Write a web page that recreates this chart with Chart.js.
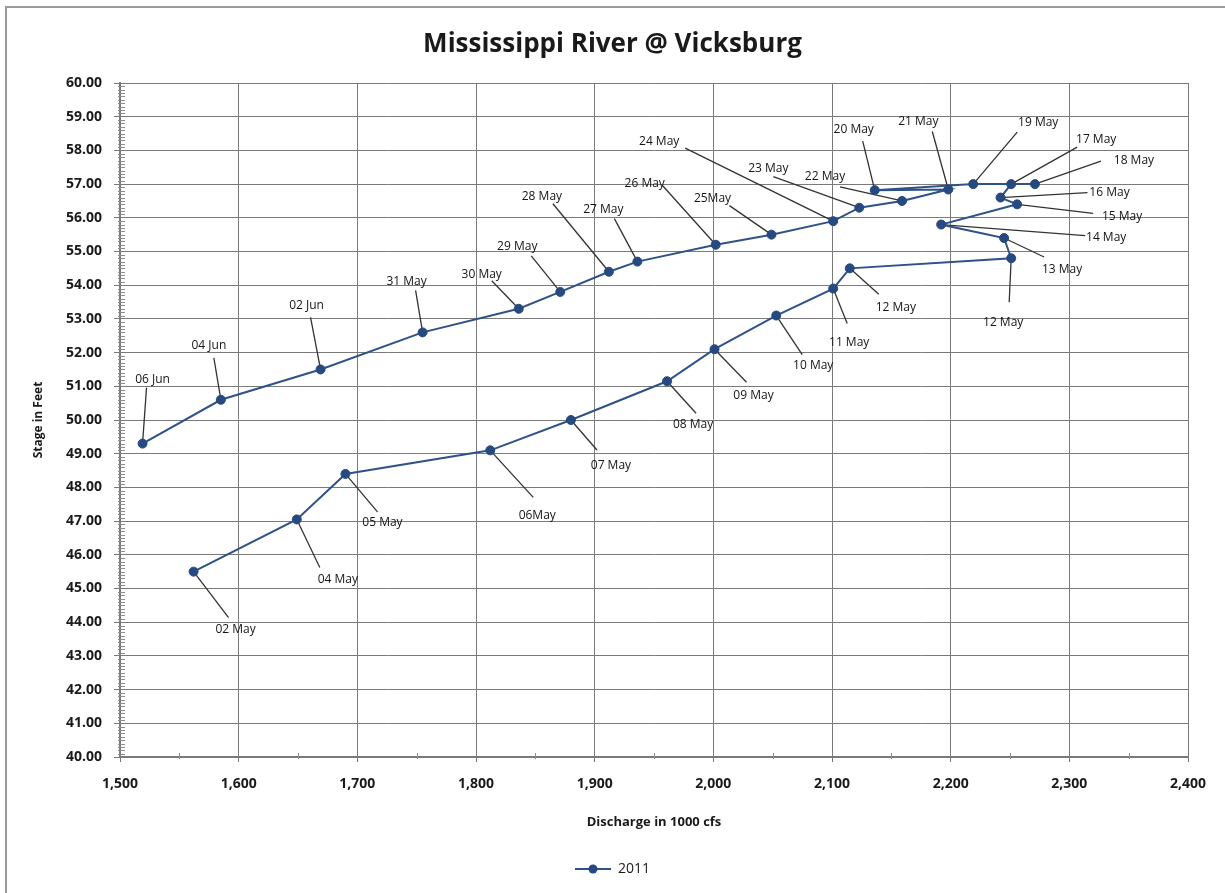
<!DOCTYPE html>
<html>
<head>
<meta charset="utf-8">
<script src="https://cdn.jsdelivr.net/npm/chart.js@4.4.0/dist/chart.umd.min.js"></script>
<style>
  html, body { margin: 0; padding: 0; background: #ffffff; }
  #wrap { width: 1225px; height: 893px; position: relative; }
</style>
</head>
<body>
<div id="wrap"><canvas id="c" width="1225" height="893"></canvas></div>
<script>
// ---------------- data ----------------
const seriesName = '2011';
const dateLabels = ['02 May','04 May','05 May','06May','07 May','08 May','09 May','10 May','11 May','12 May','12 May',
  '13 May','14 May','15 May','16 May','17 May','18 May','19 May','20 May','21 May','22 May','23 May','24 May',
  '25May','26 May','27 May','28 May','29 May','30 May','31 May','02 Jun','04 Jun','06 Jun'];
const discharge = [1562,1649,1690,1812,1880,1961,2001,2053,2101,2115,2251,
  2245,2192,2256,2242,2251,2271,2219,2136,2198,2159,2123,2101,
  2049,2002,1936,1912,1871,1836,1755,1669,1585,1519];
const stage = [45.5,47.05,48.4,49.1,50.0,51.15,52.1,53.1,53.9,54.5,54.8,
  55.4,55.8,56.4,56.6,57.0,57.0,57.0,56.82,56.84,56.5,56.3,55.9,
  55.5,55.2,54.7,54.4,53.8,53.3,52.6,51.5,50.6,49.3];
const xTickValues = [1500,1600,1700,1800,1900,2000,2100,2200,2300,2400];
const xTickLabels = ['1,500','1,600','1,700','1,800','1,900','2,000','2,100','2,200','2,300','2,400'];
const yTickValues = [40,41,42,43,44,45,46,47,48,49,50,51,52,53,54,55,56,57,58,59,60];
const yTickLabels = ['40.00','41.00','42.00','43.00','44.00','45.00','46.00','47.00','48.00','49.00','50.00',
  '51.00','52.00','53.00','54.00','55.00','56.00','57.00','58.00','59.00','60.00'];

// -------- label placement (pixel offsets from each point: text centre x,y ; leader end x,y) --------
const labelPlacement = [
  [42,58,35,46],[41,60,23,48],[37,49,32,38],[47,65,43,47],[40,46,26,30],[26,43,29,32],[39,46,32,33],
  [37,50,26,39],[16,54,14,35],[46,39,29,26],[-8,64,-2,44],
  [58,32,40,19],[165,13,144,11],[105,12,76,9],[109,-5,87,-5],[85,-45,66,-37],[99,-24,66,-23],[65,-62,44,-52],
  [-21,-61,-12,-49],[-30,-68,-16,-58],[-77,-24,-62,-14],[-91,-39,-86,-31],[-174,-80,-148,-73],
  [-59,-36,-42,-29],[-71,-61,-53,-59],[-34,-52,-23,-43],[-67,-75,-56,-68],[-43,-45,-29,-36],
  [-37,-34,-27,-28],[-16,-51,-7,-42],[-14,-64,-10,-52],[-12,-54,-7,-42],[10,-64,4,-56]
];

const SERIES_COLOR = '#264a80';
const LINE_COLOR = '#2f5288';
const GRID_COLOR = '#7a7a7a';
const FONT = "'Open Sans', 'DejaVu Sans', sans-serif";

const points = discharge.map((x, i) => ({ x: x, y: stage[i] }));

// legend symbol: line with a round marker
const legendSymbol = (function () {
  const c = document.createElement('canvas');
  c.width = 36; c.height = 12;
  const g = c.getContext('2d');
  g.strokeStyle = LINE_COLOR; g.lineWidth = 2;
  g.beginPath(); g.moveTo(0, 6); g.lineTo(36, 6); g.stroke();
  g.fillStyle = SERIES_COLOR;
  g.beginPath(); g.arc(18, 6, 4.5, 0, Math.PI * 2); g.fill();
  return c;
})();

const framePlugin = {
  id: 'frame',
  beforeDraw(chart) {
    const ctx = chart.ctx;
    ctx.save();
    ctx.fillStyle = '#ffffff';
    ctx.fillRect(0, 0, chart.width, chart.height);
    ctx.strokeStyle = '#9a9a9a';
    ctx.lineWidth = 2;
    ctx.strokeRect(6, 7, chart.width + 20, chart.height + 20);
    ctx.restore();
  }
};

const minorTickPlugin = {
  id: 'minorTicks',
  afterDatasetsDraw(chart) {
    const ctx = chart.ctx;
    const xs = chart.scales.x, ys = chart.scales.y;
    ctx.save();
    ctx.strokeStyle = '#8c8c8c';
    ctx.lineWidth = 1;
    ctx.beginPath();
    for (let k = 0; k < yTickValues.length - 1; k++) {
      const a = yTickValues[k], b = yTickValues[k + 1];
      for (let m = 1; m < 10; m++) {
        const py = Math.round(ys.getPixelForValue(a + (b - a) * m / 10)) + 0.5;
        ctx.moveTo(xs.left - 2, py); ctx.lineTo(xs.left + 5, py);
      }
    }
    for (let k = 0; k < xTickValues.length - 1; k++) {
      const a = xTickValues[k], b = xTickValues[k + 1];
      const px = Math.round(xs.getPixelForValue((a + b) / 2)) + 0.5;
      ctx.moveTo(px, ys.bottom + 2); ctx.lineTo(px, ys.bottom - 4);
    }
    ctx.stroke();
    ctx.restore();
  }
};

const pointLabelPlugin = {
  id: 'pointLabels',
  beforeDatasetsDraw(chart) {
    const ctx = chart.ctx;
    const meta = chart.getDatasetMeta(0);
    ctx.save();
    ctx.strokeStyle = '#333333';
    ctx.lineWidth = 1.3;
    meta.data.forEach((el, i) => {
      const p = labelPlacement[i];
      ctx.beginPath();
      ctx.moveTo(el.x, el.y);
      ctx.lineTo(el.x + p[2], el.y + p[3]);
      ctx.stroke();
    });
    ctx.restore();
  },
  afterDatasetsDraw(chart) {
    const ctx = chart.ctx;
    const meta = chart.getDatasetMeta(0);
    ctx.save();
    ctx.fillStyle = '#141414';
    ctx.font = "12px " + FONT;
    ctx.textAlign = 'center';
    ctx.textBaseline = 'middle';
    meta.data.forEach((el, i) => {
      const p = labelPlacement[i];
      ctx.fillText(dateLabels[i], el.x + p[0], el.y + p[1]);
    });
    ctx.restore();
  }
};

new Chart(document.getElementById('c'), {
  type: 'scatter',
  data: {
    datasets: [{
      label: seriesName,
      data: points,
      showLine: true,
      borderColor: LINE_COLOR,
      borderWidth: 2,
      backgroundColor: SERIES_COLOR,
      pointRadius: 4.5,
      pointHoverRadius: 4.5,
      pointBackgroundColor: SERIES_COLOR,
      pointBorderColor: SERIES_COLOR,
      pointBorderWidth: 1,
      tension: 0
    }]
  },
  options: {
    responsive: false,
    animation: false,
    devicePixelRatio: 1,
    layout: { padding: { left: 0, right: 0, top: 0, bottom: 7 } },
    plugins: {
      title: {
        display: true,
        text: 'Mississippi River @ Vicksburg',
        color: '#1a1a1a',
        font: { family: FONT, size: 26, weight: 'bold', lineHeight: 1.2 },
        padding: { top: 29.4, bottom: 22.4 }
      },
      legend: {
        display: true,
        position: 'bottom',
        labels: {
          color: '#1a1a1a',
          font: { family: FONT, size: 14 },
          usePointStyle: true,
          pointStyle: legendSymbol,
          pointStyleWidth: 36,
          generateLabels(chart) {
            return [{ text: seriesName, pointStyle: legendSymbol, fillStyle: SERIES_COLOR,
              strokeStyle: SERIES_COLOR, lineWidth: 0, hidden: false, datasetIndex: 0, fontColor: '#1a1a1a' }];
          }
        }
      },
      tooltip: { enabled: false }
    },
    scales: {
      x: {
        type: 'linear',
        min: xTickValues[0],
        max: xTickValues[xTickValues.length - 1],
        afterBuildTicks(scale) { scale.ticks = xTickValues.map(v => ({ value: v })); },
        afterFit(scale) { scale.height = 95; },
        ticks: {
          color: '#1a1a1a',
          font: { family: FONT, size: 14, weight: 'bold' },
          padding: 14,
          maxRotation: 0,
          autoSkip: false,
          callback: (v, i) => xTickLabels[i]
        },
        grid: { color: GRID_COLOR, lineWidth: 1, tickLength: 5, tickColor: GRID_COLOR },
        border: { color: '#7a7a7a', width: 2 },
        title: {
          display: true,
          text: 'Discharge in 1000 cfs',
          color: '#1a1a1a',
          font: { family: FONT, size: 13, weight: 'bold', lineHeight: 1.2 },
          padding: { top: 0, bottom: 22.2 }
        }
      },
      y: {
        type: 'linear',
        position: 'left',
        min: yTickValues[0],
        max: yTickValues[yTickValues.length - 1],
        afterBuildTicks(scale) { scale.ticks = yTickValues.map(v => ({ value: v })); },
        afterFit(scale) { scale.width = 120; },
        ticks: {
          color: '#1a1a1a',
          font: { family: FONT, size: 14, weight: 'bold' },
          padding: 12,
          autoSkip: false,
          callback: (v, i) => yTickLabels[i]
        },
        grid: { color: GRID_COLOR, lineWidth: 1, tickLength: 6, tickColor: GRID_COLOR },
        border: { color: '#7a7a7a', width: 2 },
        title: {
          display: true,
          text: 'Stage in Feet',
          color: '#1a1a1a',
          font: { family: FONT, size: 12, weight: 'bold', lineHeight: 1.2 },
          padding: { top: 31.8, bottom: 0 }
        }
      },
      yPad: {
        type: 'linear',
        position: 'right',
        display: true,
        min: 0, max: 1,
        afterFit(scale) { scale.width = 37; },
        ticks: { display: false },
        grid: { display: false, drawTicks: false },
        border: { display: false }
      }
    }
  },
  plugins: [framePlugin, pointLabelPlugin, minorTickPlugin]
});
</script>
</body>
</html>
